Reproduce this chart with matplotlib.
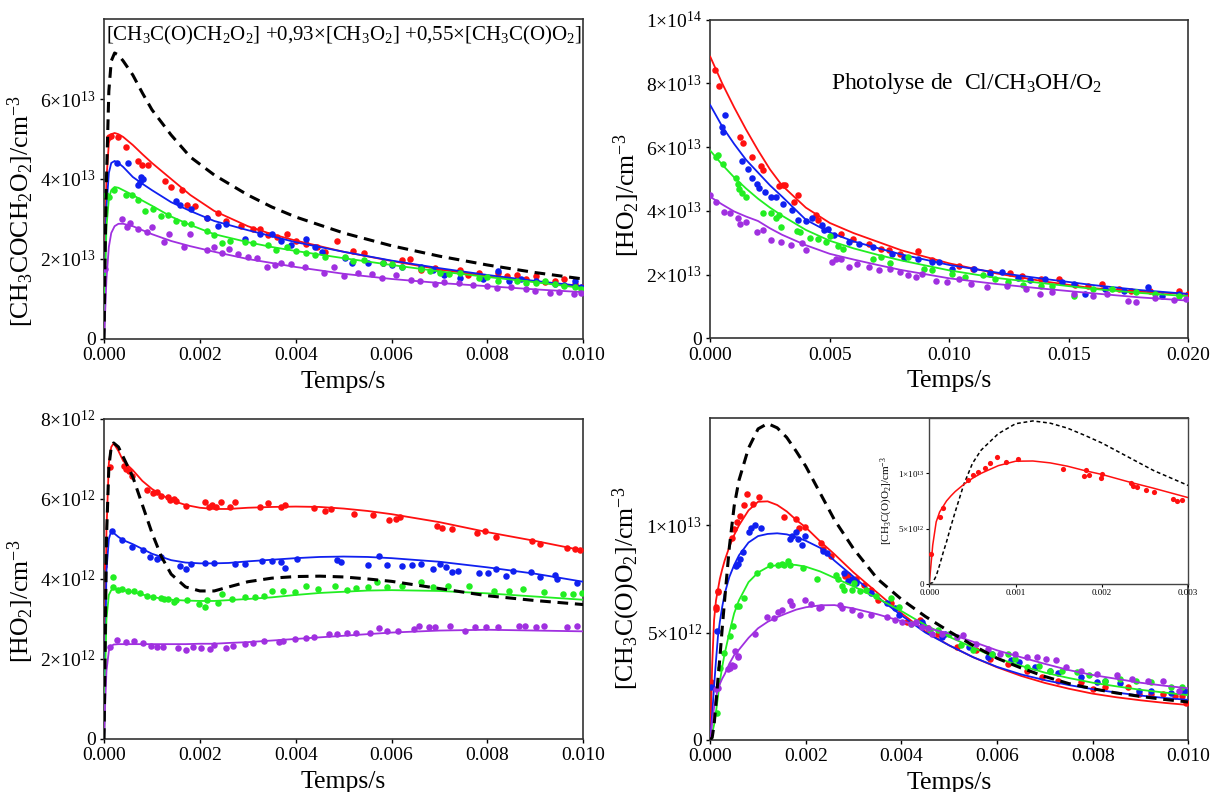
import numpy as np
import matplotlib
matplotlib.use("Agg")
import matplotlib.pyplot as plt
from matplotlib.ticker import FuncFormatter, FixedLocator

plt.rcParams["font.family"] = ["Liberation Serif", "DejaVu Serif"]
plt.rcParams["mathtext.fontset"] = "custom"
plt.rcParams["mathtext.rm"] = "Liberation Serif"
plt.rcParams["mathtext.it"] = "Liberation Serif:italic"

C_RED, C_BLUE, C_GREEN, C_PURPLE = "#ff1010", "#1020f0", "#22ee22", "#a030e0"

# ---------------- panel 1 : CH3C(O)CH2O2 sum (t in ms, values in 1e13)
p1_lt = [0, 0.02, 0.05, 0.1, 0.15, 0.22, 0.3, 0.4, 0.6, 0.8, 1.0, 1.4, 1.8, 2.3, 3.0, 3.5, 4.0, 5.0, 6.0, 7.0, 8.0, 9.0, 10.0]
p1_dash = [0, 2.0, 4.0, 6.2, 6.95, 7.15, 7.1, 6.95, 6.6, 6.15, 5.73, 5.1, 4.55, 4.1, 3.6, 3.3, 3.05, 2.65, 2.33, 2.07, 1.85, 1.66, 1.5]
p1_red = [0, 2.2, 4.0, 4.9, 5.12, 5.15, 5.12, 5.05, 4.85, 4.62, 4.4, 4.0, 3.6, 3.2, 2.82, 2.62, 2.46, 2.18, 1.95, 1.74, 1.57, 1.43, 1.30]
p1_blue = [0, 1.8, 3.3, 4.15, 4.4, 4.45, 4.4, 4.3, 4.05, 3.88, 3.72, 3.42, 3.2, 2.95, 2.72, 2.57, 2.42, 2.18, 1.96, 1.77, 1.6, 1.45, 1.32]
p1_green = [0, 1.5, 2.8, 3.5, 3.72, 3.8, 3.78, 3.72, 3.6, 3.46, 3.33, 3.06, 2.85, 2.62, 2.42, 2.3, 2.2, 2.02, 1.85, 1.69, 1.55, 1.42, 1.27]
p1_purple = [0, 0.6, 1.5, 2.3, 2.65, 2.82, 2.88, 2.88, 2.82, 2.72, 2.62, 2.45, 2.32, 2.18, 2.0, 1.9, 1.8, 1.63, 1.5, 1.4, 1.32, 1.24, 1.17]

p1_red_t = [0.11, 0.14, 0.3, 0.46, 0.7, 0.79, 0.91, 1.27, 1.39, 1.63, 1.74, 1.9, 2.14, 2.38, 2.54, 2.86, 3.1, 3.26, 3.42, 3.6, 3.82, 4.0, 4.22, 4.45, 4.62, 4.86, 5.2, 5.42, 5.82, 6.22, 6.38, 6.62, 6.9, 7.02, 7.42, 7.6, 7.82, 8.22, 8.4, 8.62, 8.8, 9.02, 9.2, 9.42, 9.6, 9.82, 9.98]
p1_red_y = [5.05, 5.08, 5.04, 4.8, 4.46, 4.34, 4.36, 3.95, 3.79, 3.72, 3.36, 3.33, 3.03, 3.15, 2.95, 2.83, 2.75, 2.75, 2.59, 2.55, 2.63, 2.45, 2.38, 2.3, 2.18, 2.46, 2.2, 2.14, 1.89, 1.98, 2.0, 1.73, 1.78, 1.69, 1.73, 1.6, 1.65, 1.65, 1.58, 1.61, 1.5, 1.57, 1.42, 1.45, 1.5, 1.37, 1.30]
p1_blue_t = [0.26, 0.5, 0.7, 0.74, 0.78, 0.82, 1.5, 1.58, 1.82, 2.14, 2.38, 2.54, 2.94, 3.26, 3.5, 3.7, 3.9, 4.22, 4.4, 4.54, 5.02, 5.18, 5.5, 5.82, 6.0, 6.22, 6.62, 6.86, 7.1, 7.42, 7.9, 8.22, 8.46, 8.7, 9.02, 9.42, 9.6, 9.82, 9.95]
p1_blue_y = [4.39, 4.39, 3.85, 3.93, 4.06, 4.0, 3.44, 3.36, 3.24, 3.03, 2.83, 2.87, 2.5, 2.63, 2.63, 2.45, 2.34, 2.5, 2.3, 2.18, 2.02, 1.89, 1.89, 1.89, 1.85, 1.81, 1.79, 1.73, 1.6, 1.53, 1.49, 1.69, 1.46, 1.5, 1.45, 1.37, 1.35, 1.45, 1.3]
p1_green_t = [0.05, 0.1, 0.2, 0.46, 0.58, 0.7, 0.86, 1.02, 1.18, 1.34, 1.5, 1.66, 1.82, 2.14, 2.3, 2.46, 2.62, 2.94, 3.1, 3.42, 3.58, 3.82, 4.0, 4.22, 4.4, 4.62, 5.02, 5.2, 5.42, 5.82, 6.0, 6.22, 6.62, 6.8, 7.02, 7.2, 7.42, 7.82, 8.0, 8.22, 8.62, 8.8, 9.02, 9.2, 9.42, 9.6, 9.82, 9.95]
p1_green_y = [3.6, 3.56, 3.72, 3.6, 3.6, 3.48, 3.2, 3.24, 3.07, 3.11, 2.95, 2.91, 2.87, 2.71, 2.59, 2.39, 2.46, 2.42, 2.39, 2.34, 2.22, 2.3, 2.2, 2.14, 2.1, 2.06, 2.06, 1.95, 1.98, 1.9, 1.88, 1.81, 1.76, 1.7, 1.65, 1.62, 1.65, 1.53, 1.55, 1.45, 1.46, 1.4, 1.41, 1.45, 1.37, 1.32, 1.30, 1.25]
p1_purple_t = [0.02, 0.38, 0.47, 0.55, 0.7, 0.9, 1.0, 1.26, 1.35, 1.66, 1.8, 2.14, 2.3, 2.46, 2.6, 2.8, 3.0, 3.2, 3.4, 3.56, 3.7, 3.9, 4.2, 4.6, 4.8, 5.0, 5.3, 5.6, 5.8, 6.1, 6.4, 6.6, 6.9, 7.1, 7.4, 7.7, 8.0, 8.2, 8.5, 8.8, 9.0, 9.3, 9.5, 9.8, 9.95]
p1_purple_y = [1.75, 3.0, 2.8, 2.9, 2.75, 2.67, 2.8, 2.42, 2.62, 2.3, 2.62, 2.22, 2.3, 2.14, 2.25, 2.12, 2.05, 2.02, 1.79, 1.85, 1.9, 1.88, 1.79, 1.65, 1.8, 1.57, 1.66, 1.62, 1.53, 1.6, 1.48, 1.45, 1.38, 1.42, 1.41, 1.36, 1.33, 1.28, 1.3, 1.25, 1.2, 1.15, 1.18, 1.12, 1.15]

# ---------------- panel 2 : HO2, Cl/CH3OH/O2 (t in ms, values in 1e13)
p2_lt = [0, 0.5, 1, 1.5, 2, 2.5, 3, 4, 5, 6, 7, 8, 10, 12, 14, 16, 18, 20]
p2_red = [8.84, 8.0, 7.25, 6.55, 5.9, 5.3, 4.8, 4.1, 3.62, 3.3, 3.03, 2.76, 2.35, 2.03, 1.78, 1.57, 1.46, 1.39]
p2_blue = [7.32, 6.65, 6.1, 5.6, 5.2, 4.8, 4.45, 3.72, 3.32, 3.04, 2.83, 2.63, 2.3, 2.06, 1.86, 1.67, 1.51, 1.39]
p2_green = [5.89, 5.45, 5.05, 4.7, 4.38, 4.1, 3.85, 3.4, 3.06, 2.82, 2.62, 2.44, 2.13, 1.89, 1.72, 1.55, 1.42, 1.32]
p2_purple = [4.44, 4.2, 3.98, 3.82, 3.68, 3.45, 3.25, 2.92, 2.65, 2.47, 2.3, 2.14, 1.88, 1.7, 1.55, 1.41, 1.28, 1.18]

p2_red_t = [0.2, 0.38, 1.23, 1.36, 1.75, 2.13, 2.21, 2.87, 3.03, 3.11, 3.52, 3.69, 4.43, 4.51, 5.49, 5.98, 6.64, 7.13, 7.46, 7.95, 8.69, 9.26, 10.4, 10.98, 11.72, 12.54, 13.03, 13.85, 14.6, 15.25, 15.8, 16.4, 17.1, 17.6, 18.4, 19.6, 20.0]
p2_red_y = [8.42, 7.92, 6.32, 6.14, 5.68, 5.42, 5.29, 4.77, 4.81, 4.81, 4.28, 4.49, 3.86, 3.71, 3.28, 3.13, 2.97, 2.81, 2.76, 2.65, 2.73, 2.44, 2.28, 2.18, 2.07, 2.05, 1.95, 1.86, 1.86, 1.67, 1.65, 1.71, 1.55, 1.49, 1.49, 1.49, 1.39]
p2_blue_t = [0.49, 0.54, 0.61, 1.31, 1.56, 1.75, 1.97, 2.05, 2.3, 2.54, 2.75, 3.03, 3.44, 3.69, 4.02, 4.26, 4.67, 4.75, 4.92, 5.16, 5.82, 6.23, 6.8, 7.62, 8.11, 8.69, 9.26, 9.59, 10.1, 11.05, 11.7, 12.2, 12.87, 13.4, 14.0, 14.7, 15.2, 15.66, 16.5, 17.3, 18.3, 18.9, 19.6]
p2_blue_y = [6.63, 6.47, 7.0, 5.55, 5.32, 5.02, 4.84, 4.71, 4.6, 4.44, 4.42, 4.23, 4.02, 3.71, 3.67, 3.78, 3.55, 3.39, 3.44, 3.23, 3.02, 2.97, 2.86, 2.65, 2.52, 2.49, 2.39, 2.39, 2.16, 2.16, 2.02, 2.07, 1.88, 1.83, 1.86, 1.78, 1.71, 1.39, 1.55, 1.49, 1.6, 1.34, 1.39]
p2_green_t = [0.25, 0.33, 0.54, 1.07, 1.15, 1.2, 1.31, 1.48, 2.21, 2.54, 2.74, 2.87, 2.95, 3.61, 3.77, 4.18, 4.51, 4.84, 5.0, 5.33, 5.57, 6.8, 7.13, 7.54, 8.28, 8.93, 9.26, 10.1, 10.66, 11.4, 11.9, 12.46, 13.1, 13.85, 14.3, 15.2, 16.0, 16.8, 17.8, 18.6, 19.6]
p2_green_y = [5.68, 5.76, 5.47, 5.02, 4.84, 4.7, 4.55, 4.44, 3.92, 3.92, 3.76, 3.86, 3.49, 3.36, 3.34, 3.15, 3.13, 3.02, 3.21, 2.89, 2.81, 2.49, 2.55, 2.37, 2.55, 2.18, 2.13, 2.02, 1.92, 1.97, 1.86, 1.76, 1.67, 1.65, 1.65, 1.34, 1.55, 1.53, 1.44, 1.39, 1.34]
p2_purple_t = [0.0, 0.25, 0.57, 0.82, 1.15, 1.23, 1.48, 1.97, 2.21, 2.54, 2.95, 3.36, 3.85, 4.02, 5.08, 5.25, 5.49, 5.82, 6.15, 6.64, 7.05, 7.54, 7.95, 8.28, 8.61, 8.85, 9.43, 9.92, 10.4, 10.9, 11.56, 12.4, 13.2, 13.8, 14.3, 15.2, 16.0, 16.6, 17.5, 17.8, 18.6, 19.4, 19.9]
p2_purple_y = [4.49, 4.28, 3.97, 3.92, 3.78, 3.6, 3.65, 3.34, 3.39, 3.07, 3.02, 2.94, 2.99, 2.76, 2.39, 2.49, 2.49, 2.23, 2.34, 2.23, 2.13, 2.16, 2.07, 1.97, 1.92, 2.02, 1.81, 1.76, 1.86, 1.71, 1.6, 1.65, 1.55, 1.39, 1.44, 1.39, 1.34, 1.39, 1.18, 1.15, 1.25, 1.21, 1.23]

# ---------------- panel 3 : HO2 (t in ms, values in 1e12)
p3_lt = [0, 0.02, 0.05, 0.1, 0.15, 0.2, 0.3, 0.4, 0.6, 0.8, 1.0, 1.2, 1.4, 1.7, 2.0, 2.3, 2.6, 3.0, 3.5, 4.0, 4.5, 5.0, 5.5, 6.0, 7.0, 8.0, 9.0, 10.0]
p3_dash = [0, 2.0, 5.0, 6.8, 7.3, 7.4, 7.3, 7.05, 6.55, 5.85, 5.15, 4.55, 4.12, 3.8, 3.7, 3.7, 3.8, 3.93, 4.02, 4.06, 4.07, 4.05, 4.0, 3.94, 3.76, 3.58, 3.46, 3.36]
p3_red = [0, 2.5, 5.2, 6.9, 7.3, 7.39, 7.2, 6.95, 6.72, 6.45, 6.25, 6.1, 5.97, 5.85, 5.78, 5.75, 5.75, 5.78, 5.8, 5.81, 5.8, 5.76, 5.7, 5.62, 5.42, 5.17, 4.95, 4.71]
p3_blue = [0, 2.0, 4.2, 5.0, 5.2, 5.15, 5.05, 4.97, 4.87, 4.75, 4.63, 4.55, 4.47, 4.41, 4.39, 4.39, 4.4, 4.44, 4.48, 4.52, 4.55, 4.56, 4.55, 4.52, 4.43, 4.29, 4.13, 3.93]
p3_green = [0, 1.5, 3.0, 3.6, 3.72, 3.75, 3.75, 3.72, 3.67, 3.61, 3.55, 3.51, 3.48, 3.46, 3.45, 3.45, 3.47, 3.5, 3.54, 3.6, 3.65, 3.68, 3.71, 3.72, 3.7, 3.64, 3.56, 3.48]
p3_purple = [0, 0.8, 1.7, 2.2, 2.32, 2.36, 2.37, 2.37, 2.37, 2.37, 2.37, 2.37, 2.37, 2.37, 2.38, 2.38, 2.4, 2.42, 2.46, 2.5, 2.54, 2.58, 2.62, 2.66, 2.71, 2.73, 2.71, 2.69]

p3_red_t = [0.0, 0.12, 0.42, 0.46, 0.52, 0.58, 0.9, 1.02, 1.1, 1.18, 1.34, 1.38, 1.46, 1.51, 1.7, 2.1, 2.18, 2.26, 2.34, 2.44, 2.62, 2.74, 3.26, 3.42, 3.7, 3.78, 4.38, 4.62, 4.74, 5.22, 5.62, 5.94, 6.1, 6.18, 6.94, 7.06, 7.26, 7.78, 7.94, 8.18, 8.94, 9.1, 9.66, 9.82, 9.94]
p3_red_y = [4.32, 6.81, 6.83, 6.75, 6.69, 6.58, 6.22, 6.14, 6.17, 6.08, 6.04, 5.98, 6.0, 5.96, 5.83, 5.92, 5.81, 5.86, 5.79, 5.92, 5.81, 5.92, 5.79, 5.89, 5.81, 5.86, 5.78, 5.71, 5.75, 5.63, 5.61, 5.48, 5.5, 5.54, 5.33, 5.28, 5.25, 5.14, 5.21, 5.06, 4.94, 4.88, 4.78, 4.75, 4.72]
p3_blue_t = [0.16, 0.38, 0.58, 0.82, 0.96, 1.1, 1.18, 1.58, 1.7, 1.82, 2.1, 2.3, 2.74, 2.94, 3.3, 3.5, 3.7, 3.78, 4.02, 4.86, 4.94, 5.5, 5.74, 5.9, 6.22, 6.42, 6.62, 6.86, 7.02, 7.14, 7.26, 7.38, 7.82, 8.02, 8.18, 8.38, 8.54, 8.9, 9.1, 9.42, 9.46, 9.86]
p3_blue_y = [5.19, 4.98, 4.79, 4.73, 4.56, 4.5, 4.54, 4.32, 4.25, 4.38, 4.39, 4.39, 4.38, 4.38, 4.44, 4.46, 4.43, 4.28, 4.49, 4.48, 4.42, 4.36, 4.58, 4.35, 4.33, 4.35, 4.38, 4.25, 4.38, 4.31, 4.17, 4.21, 4.15, 4.15, 4.25, 4.08, 4.21, 4.17, 4.04, 4.11, 4.0, 3.89]
p3_green_t = [0.18, 0.18, 0.3, 0.38, 0.5, 0.62, 0.74, 0.9, 1.02, 1.18, 1.26, 1.34, 1.46, 1.5, 1.74, 1.98, 2.1, 2.14, 2.38, 2.46, 2.66, 2.94, 3.14, 3.34, 3.5, 3.74, 3.98, 4.22, 4.46, 4.82, 5.06, 5.26, 5.5, 5.7, 5.9, 6.22, 6.62, 6.86, 7.18, 7.62, 8.14, 8.46, 8.74, 9.18, 9.58, 9.78, 9.98]
p3_green_y = [4.04, 3.81, 3.73, 3.75, 3.71, 3.69, 3.64, 3.58, 3.54, 3.52, 3.49, 3.5, 3.42, 3.48, 3.48, 3.38, 3.3, 3.48, 3.4, 3.63, 3.5, 3.54, 3.54, 3.58, 3.71, 3.69, 3.67, 3.83, 3.75, 3.83, 3.73, 3.78, 3.79, 3.92, 3.79, 3.83, 3.92, 3.79, 3.83, 3.83, 3.71, 3.71, 3.75, 3.67, 3.63, 3.63, 3.64]
p3_purple_t = [0.12, 0.28, 0.46, 0.62, 0.82, 0.98, 1.1, 1.22, 1.54, 1.7, 1.86, 2.02, 2.22, 2.3, 2.54, 2.7, 2.94, 3.1, 3.34, 3.66, 3.74, 3.98, 4.22, 4.38, 4.7, 4.86, 5.06, 5.26, 5.54, 5.74, 5.9, 6.14, 6.46, 6.58, 6.78, 6.9, 7.22, 7.54, 7.74, 7.98, 8.22, 8.66, 8.78, 9.02, 9.18, 9.66, 9.86]
p3_purple_y = [2.29, 2.48, 2.42, 2.45, 2.41, 2.33, 2.29, 2.31, 2.27, 2.23, 2.31, 2.27, 2.24, 2.35, 2.27, 2.33, 2.38, 2.39, 2.44, 2.42, 2.46, 2.5, 2.52, 2.54, 2.63, 2.62, 2.65, 2.66, 2.66, 2.77, 2.69, 2.71, 2.75, 2.82, 2.8, 2.79, 2.82, 2.71, 2.8, 2.8, 2.8, 2.83, 2.82, 2.8, 2.82, 2.8, 2.82]

# ---------------- panel 4 : CH3C(O)O2 (t in ms, values in 1e12)
p4_lt = [0, 0.04, 0.08, 0.12, 0.16, 0.2, 0.25, 0.3, 0.4, 0.5, 0.6, 0.8, 1.0, 1.2, 1.4, 1.6, 1.8, 2.0, 2.3, 2.6, 3.0, 3.5, 4.0, 4.5, 5.0, 5.5, 6.0, 6.5, 7.0, 7.5, 8.0, 8.5, 9.0, 9.5, 10.0]
p4_dash = [0, 0.1, 0.7, 1.7, 2.8, 3.8, 5.2, 6.5, 9.0, 10.9, 12.1, 13.6, 14.5, 14.75, 14.55, 14.1, 13.45, 12.75, 11.5, 10.25, 8.9, 7.5, 6.55, 5.75, 5.05, 4.4, 3.8, 3.35, 2.95, 2.62, 2.38, 2.18, 2.02, 1.88, 1.76]
p4_red = [0, 3.5, 5.6, 6.5, 7.0, 7.5, 7.95, 8.35, 9.0, 9.55, 10.0, 10.7, 11.1, 11.12, 10.95, 10.65, 10.25, 9.9, 9.25, 8.65, 7.8, 6.85, 5.9, 5.05, 4.4, 3.85, 3.38, 2.98, 2.65, 2.38, 2.15, 1.98, 1.84, 1.72, 1.62]
p4_blue = [0, 1.2, 2.5, 3.7, 4.8, 5.5, 6.2, 6.8, 7.6, 8.15, 8.6, 9.2, 9.5, 9.6, 9.63, 9.58, 9.45, 9.28, 8.95, 8.35, 7.6, 6.65, 5.8, 5.0, 4.4, 3.85, 3.4, 3.05, 2.78, 2.55, 2.36, 2.2, 2.06, 1.95, 1.86]
p4_green = [0, 0.3, 0.7, 1.3, 2.0, 2.7, 3.4, 4.0, 5.0, 5.9, 6.5, 7.35, 7.8, 8.05, 8.15, 8.18, 8.15, 8.07, 7.85, 7.55, 7.15, 6.6, 6.0, 5.35, 4.8, 4.3, 3.8, 3.45, 3.13, 2.88, 2.66, 2.49, 2.33, 2.2, 2.08]
p4_purple = [0, 0.8, 1.5, 2.0, 2.35, 2.6, 2.85, 3.05, 3.55, 3.95, 4.2, 4.75, 5.2, 5.5, 5.72, 5.9, 6.07, 6.18, 6.27, 6.28, 6.12, 5.85, 5.53, 5.24, 4.95, 4.57, 4.17, 3.85, 3.54, 3.25, 3.02, 2.84, 2.66, 2.52, 2.4]

p4_red_t = [0.01, 0.12, 0.13, 0.16, 0.17, 0.45, 0.49, 0.55, 0.63, 0.71, 0.77, 0.89, 1.03, 1.54, 1.79, 1.85, 1.99, 2.32, 2.36, 2.52, 2.82, 2.89, 3.05, 3.21, 3.37, 3.5, 3.78, 4.11, 4.39, 4.55, 4.76, 5.16, 5.57, 5.85, 6.22, 6.63, 6.95, 7.28, 7.76, 8.01, 8.25, 8.74, 8.98, 9.23, 9.47, 9.72, 9.88, 9.96]
p4_red_y = [2.71, 6.08, 6.17, 6.9, 6.96, 9.4, 9.82, 10.15, 10.45, 10.96, 11.45, 11.0, 11.33, 10.39, 10.3, 9.88, 9.91, 9.2, 8.9, 8.56, 7.65, 7.7, 7.5, 7.2, 7.0, 6.5, 6.37, 5.5, 5.58, 5.19, 4.95, 4.32, 4.17, 3.77, 3.54, 3.22, 2.91, 2.75, 2.67, 2.36, 2.44, 2.44, 2.12, 2.12, 2.12, 2.04, 2.04, 1.73]
p4_blue_t = [0.01, 0.14, 0.54, 0.58, 0.63, 0.68, 0.81, 0.85, 0.93, 1.06, 1.67, 1.71, 1.79, 1.83, 1.91, 1.99, 2.36, 2.44, 2.8, 2.89, 2.97, 3.05, 3.37, 3.7, 3.86, 3.94, 4.43, 4.45, 4.84, 4.92, 5.41, 5.81, 5.9, 6.3, 6.46, 6.79, 7.11, 7.28, 7.76, 8.09, 8.25, 8.58, 8.98, 9.23, 9.63, 9.92]
p4_blue_y = [2.46, 5.07, 8.1, 8.2, 8.45, 8.75, 9.7, 9.9, 10.0, 9.9, 9.35, 9.5, 9.7, 9.35, 9.1, 9.5, 8.8, 8.7, 7.8, 7.4, 7.5, 7.3, 6.85, 6.37, 6.13, 5.82, 5.5, 5.35, 4.8, 4.95, 4.32, 3.85, 4.0, 3.7, 3.62, 3.38, 3.22, 3.1, 2.91, 2.67, 2.75, 2.63, 2.28, 2.28, 2.2, 2.28]
p4_green_t = [0.14, 0.21, 0.28, 0.42, 0.48, 0.55, 0.6, 0.7, 0.98, 1.26, 1.42, 1.5, 1.54, 1.63, 1.67, 1.93, 2.24, 2.64, 2.68, 2.76, 2.8, 2.97, 3.0, 3.13, 3.25, 3.46, 3.78, 3.94, 4.19, 4.6, 4.76, 5.0, 5.24, 5.49, 5.9, 6.22, 6.38, 6.63, 6.87, 7.11, 7.36, 7.68, 7.93, 8.25, 8.58, 8.9, 9.23, 9.63, 9.88]
p4_green_y = [1.25, 3.35, 4.05, 4.83, 5.3, 6.23, 6.23, 6.62, 7.76, 8.14, 8.14, 8.2, 8.14, 8.33, 8.17, 8.0, 7.5, 7.7, 7.5, 7.17, 7.0, 7.0, 7.3, 6.93, 7.0, 6.7, 6.6, 6.2, 5.42, 5.1, 5.1, 4.95, 4.4, 4.17, 4.0, 4.0, 3.77, 3.38, 3.46, 3.22, 3.22, 3.14, 3.0, 2.75, 2.83, 2.75, 2.67, 2.44, 2.44]
p4_purple_t = [0.12, 0.17, 0.37, 0.42, 0.45, 0.49, 0.52, 0.57, 0.59, 0.93, 1.18, 1.34, 1.42, 1.5, 1.67, 1.71, 1.99, 2.11, 2.28, 2.32, 2.72, 2.76, 2.97, 3.13, 3.37, 3.7, 3.86, 4.02, 4.19, 4.31, 4.43, 4.55, 4.63, 4.84, 5.16, 5.28, 5.57, 5.81, 6.06, 6.38, 6.63, 6.83, 7.03, 7.24, 7.44, 7.76, 8.09, 8.5, 8.82, 9.15, 9.47, 9.8]
p4_purple_y = [2.36, 2.42, 3.3, 3.35, 3.5, 3.46, 4.13, 3.85, 3.9, 4.95, 5.74, 5.66, 5.97, 6.05, 6.45, 6.29, 6.53, 6.34, 6.13, 6.21, 6.29, 6.13, 6.05, 5.82, 5.82, 5.74, 5.58, 5.5, 5.42, 5.5, 5.27, 5.19, 4.95, 4.95, 4.8, 4.87, 4.48, 4.25, 4.0, 4.0, 3.85, 3.85, 3.77, 3.7, 3.38, 3.22, 3.07, 3.0, 2.83, 2.75, 2.75, 2.28]

# inset : red points over the first 3 ms (t in ms, values in 1e12)
ins_red_t = [0.02, 0.12, 0.16, 0.45, 0.51, 0.56, 0.64, 0.7, 0.78, 0.89, 1.03, 1.55, 1.79, 1.81, 1.85, 1.99, 2.0, 2.34, 2.36, 2.41, 2.51, 2.6, 2.82, 2.87, 2.93]
ins_red_y = [2.71, 6.08, 6.9, 9.4, 9.82, 10.15, 10.45, 10.96, 11.45, 11.0, 11.33, 10.39, 9.76, 10.3, 9.88, 9.55, 9.91, 9.16, 8.83, 8.8, 8.49, 8.28, 7.65, 7.53, 7.62]


def sci_fmt(v, pos):
    if abs(v) < 1e-30:
        return "0"
    e = int(np.floor(np.log10(v) + 1e-9))
    m = v / 10 ** e
    return r"$%d{\times}10^{%d}$" % (round(m), e)


def draw(ax, lt, lines, pts, tscale, yscale, dash=None, ms=22):
    t_line = np.array(lt) * tscale
    if dash is not None:
        ax.plot(t_line, np.array(dash) * yscale, color="black", lw=2.2,
                dashes=(3.5, 2.2), zorder=4)
    for (vals, col), (pt, py) in zip(lines, pts):
        ax.scatter(np.array(pt) * tscale, np.array(py) * yscale, s=ms,
                   color=col, linewidths=0, zorder=3)
        ax.plot(t_line, np.array(vals) * yscale, color=col, lw=1.3, zorder=3)


def style(ax, xmax, xstep, ymax, yticks, ylabel, ylab_x, ylab_y, lsize=18.5, tsize=14):
    ax.set_xlim(0, xmax)
    ax.set_ylim(0, ymax)
    ax.xaxis.set_major_locator(FixedLocator(np.arange(0, xmax + 1e-9, xstep)))
    ax.xaxis.set_major_formatter(FuncFormatter(lambda v, p: "%.3f" % v))
    ax.yaxis.set_major_locator(FixedLocator(yticks))
    ax.yaxis.set_major_formatter(FuncFormatter(sci_fmt))
    ax.tick_params(labelsize=tsize, length=3, width=1, direction="out", pad=3)
    for s in ax.spines.values():
        s.set_linewidth(1.2)
        s.set_color("#333333")
    ax.set_xlabel("Temps/s", fontsize=lsize)
    ax.xaxis.set_label_coords(0.5, -0.1)
    ax.set_ylabel(ylabel, fontsize=lsize)
    ax.yaxis.set_label_coords(ylab_x, ylab_y)


fig = plt.figure(figsize=(12.1, 7.92), dpi=100)
ax1 = fig.add_axes([0.086, 0.572, 0.396, 0.404])
ax2 = fig.add_axes([0.587, 0.573, 0.395, 0.402])
ax3 = fig.add_axes([0.086, 0.067, 0.396, 0.404])
ax4 = fig.add_axes([0.587, 0.066, 0.395, 0.406])

ms_t = 1e-3

# panel 1
draw(ax1, p1_lt,
     [(p1_red, C_RED), (p1_blue, C_BLUE), (p1_green, C_GREEN), (p1_purple, C_PURPLE)],
     [(p1_red_t, p1_red_y), (p1_blue_t, p1_blue_y), (p1_green_t, p1_green_y), (p1_purple_t, p1_purple_y)],
     ms_t, 1e13, dash=p1_dash)
style(ax1, 0.010, 0.002, 8e13, [0, 2e13, 4e13, 6e13],
      r"[CH$_3$COCH$_2$O$_2$]/cm$^{-3}$", -0.142, 0.40)
ax1.text(0.005, 0.985,
         r"[CH$_3$C(O)CH$_2$O$_2$] +0,93×[CH$_3$O$_2$] +0,55×[CH$_3$C(O)O$_2$]",
         transform=ax1.transAxes, ha="left", va="top", fontsize=15)

# panel 2
draw(ax2, p2_lt,
     [(p2_red, C_RED), (p2_blue, C_BLUE), (p2_green, C_GREEN), (p2_purple, C_PURPLE)],
     [(p2_red_t, p2_red_y), (p2_blue_t, p2_blue_y), (p2_green_t, p2_green_y), (p2_purple_t, p2_purple_y)],
     ms_t, 1e13)
style(ax2, 0.020, 0.005, 1e14, [0, 2e13, 4e13, 6e13, 8e13, 1e14],
      r"[HO$_2$]/cm$^{-3}$", -0.142, 0.45)
ax2.text(0.536, 0.8, r"Photolyse de  Cl/CH$_3$OH/O$_2$",
         transform=ax2.transAxes, ha="center", va="center", fontsize=17)

# panel 3
draw(ax3, p3_lt,
     [(p3_red, C_RED), (p3_blue, C_BLUE), (p3_green, C_GREEN), (p3_purple, C_PURPLE)],
     [(p3_red_t, p3_red_y), (p3_blue_t, p3_blue_y), (p3_green_t, p3_green_y), (p3_purple_t, p3_purple_y)],
     ms_t, 1e12, dash=p3_dash)
style(ax3, 0.010, 0.002, 8e12, [0, 2e12, 4e12, 6e12, 8e12],
      r"[HO$_2$]/cm$^{-3}$", -0.142, 0.43)

# panel 4
draw(ax4, p4_lt,
     [(p4_red, C_RED), (p4_blue, C_BLUE), (p4_green, C_GREEN), (p4_purple, C_PURPLE)],
     [(p4_red_t, p4_red_y), (p4_blue_t, p4_blue_y), (p4_green_t, p4_green_y), (p4_purple_t, p4_purple_y)],
     ms_t, 1e12, dash=p4_dash)
style(ax4, 0.010, 0.002, 1.5e13, [0, 5e12, 1e13],
      r"[CH$_3$C(O)O$_2$]/cm$^{-3}$", -0.142, 0.47)

# inset in panel 4
axi = fig.add_axes([0.768, 0.263, 0.214, 0.209])
axi.plot(np.array(p4_lt) * ms_t, np.array(p4_dash) * 1e12, color="black",
         lw=1.1, dashes=(2.5, 1.8))
axi.plot(np.array(p4_lt) * ms_t, np.array(p4_red) * 1e12, color=C_RED, lw=1.1)
axi.scatter(np.array(ins_red_t) * ms_t, np.array(ins_red_y) * 1e12, s=14,
            color=C_RED, linewidths=0, zorder=3)
axi.set_xlim(0, 0.003)
axi.set_ylim(0, 1.5e13)
axi.xaxis.set_major_locator(FixedLocator([0, 0.001, 0.002, 0.003]))
axi.xaxis.set_major_formatter(FuncFormatter(lambda v, p: "%.3f" % v))
axi.yaxis.set_major_locator(FixedLocator([0, 5e12, 1e13]))
axi.yaxis.set_major_formatter(FuncFormatter(sci_fmt))
axi.tick_params(labelsize=6.5, length=2, width=0.8, pad=1.5)
for s in axi.spines.values():
    s.set_linewidth(1.0)
    s.set_color("#444444")
axi.set_ylabel(r"[CH$_3$C(O)O$_2$]/cm$^{-3}$", fontsize=8, labelpad=2)

fig.savefig("out.png", dpi=100)
